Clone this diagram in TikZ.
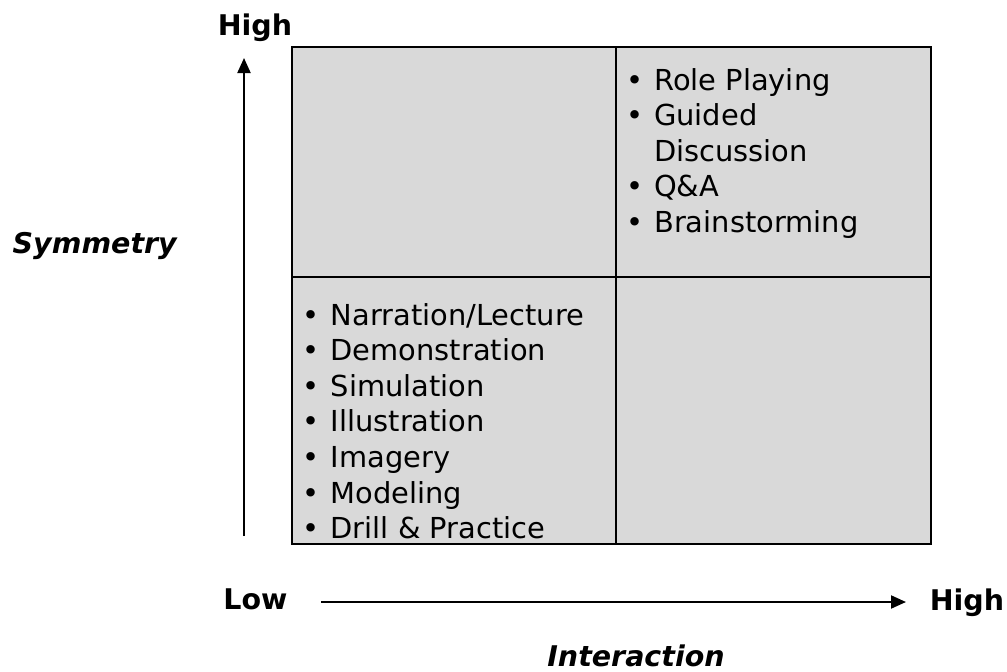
\documentclass[tikz,border=0pt]{standalone}
\usepackage{fontspec}
\setmainfont{DejaVu Sans}
\usetikzlibrary{arrows.meta}
\definecolor{cellgray}{HTML}{D9D9D9}
\tikzset{
  cell/.style={draw=black, line width=2.7pt, fill=cellgray},
  axis/.style={line width=2pt, -{Triangle[length=15pt,width=13pt]}},
  lbl/.style={inner sep=0pt, font=\fontsize{28.5}{35.6}\selectfont\bfseries},
  ilbl/.style={inner sep=0pt, font=\fontsize{28.5}{35.6}\selectfont\bfseries\itshape},
  listtxt/.style={inner sep=0pt, anchor=base west, font=\fontsize{28.9}{35.6}\selectfont}
}
\newcommand{\bulletgap}{\hspace{11pt}}
\begin{document}
\begin{tikzpicture}[x=1pt,y=-1pt]
\useasboundingbox (0,0) rectangle (1007,672);
% cells
\path[cell] (292,47) rectangle (616,277);
\path[cell] (616,47) rectangle (931,277);
\path[cell] (292,277) rectangle (616,544);
\path[cell] (616,277) rectangle (931,544);
% axes
\coordinate (vstart) at (244,536);
\coordinate (vend) at (244,58);
\coordinate (hstart) at (321,602);
\coordinate (hend) at (906,602);
\draw[axis] (vstart) -- (vend);
\draw[axis] (hstart) -- (hend);
% labels
\node[lbl, anchor=base] (hightop) at (255,35) {High};
\node[ilbl, anchor=base east] (sym) at (177,253) {Symmetry};
\node[lbl, anchor=base] (low) at (255.5,609) {Low};
\node[lbl, anchor=base] (highright) at (967,610) {High};
\node[ilbl, anchor=base] (inter) at (636,666) {Interaction};
% lists
\node[listtxt] (toplist) at (626,90) {%
\begin{tabular}[t]{@{}c@{\bulletgap}l@{}}
• & Role Playing\\
• & Guided\\
  & Discussion\\
• & Q\&A\\
• & Brainstorming
\end{tabular}};
\node[listtxt] (botlist) at (302.5,325) {%
\begin{tabular}[t]{@{}c@{\bulletgap}l@{}}
• & Narration/Lecture\\
• & Demonstration\\
• & Simulation\\
• & Illustration\\
• & Imagery\\
• & Modeling\\
• & Drill \& Practice
\end{tabular}};
\end{tikzpicture}
\end{document}
